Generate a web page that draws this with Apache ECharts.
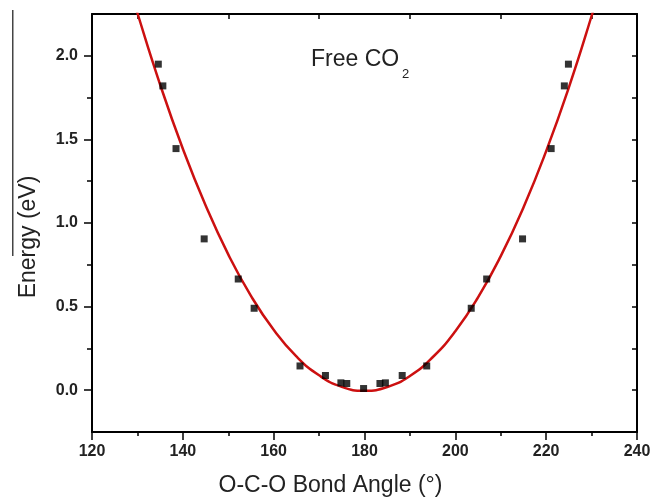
<!DOCTYPE html>
<html>
<head>
<meta charset="utf-8">
<script src="https://cdn.jsdelivr.net/npm/echarts@6/dist/echarts.min.js"></script>
<style>html,body{margin:0;padding:0;background:#fff}#c{width:653px;height:497px}</style>
</head>
<body>
<div id="c"></div>
<script>
// Data
const pointsX = [134.6, 135.6, 138.5, 144.7, 152.2, 155.7, 165.8, 171.4, 174.8, 176.1, 179.8, 183.4, 184.6, 188.3, 193.7, 203.5, 206.9, 214.8, 221.1, 224.0, 224.9];
const pointsY = [1.95, 1.82, 1.445, 0.905, 0.665, 0.49, 0.145, 0.088, 0.044, 0.04, 0.01, 0.04, 0.044, 0.088, 0.145, 0.49, 0.665, 0.905, 1.445, 1.82, 1.95];
const curveX = [128, 130, 135, 140, 145, 150, 155, 160, 165, 170, 175, 180, 185, 190, 195, 200, 205, 210, 215, 220, 225, 230, 233];
const curveY = [2.440, 2.256, 1.828, 1.444, 1.106, 0.812, 0.564, 0.361, 0.202, 0.089, 0.020, -0.003, 0.019, 0.085, 0.197, 0.353, 0.555, 0.802, 1.093, 1.430, 1.811, 2.238, 2.516];
const xTickLabels = [120, 140, 160, 180, 200, 220, 240];
const xTopTicks = [130, 150, 170, 190, 210, 230];
const yTickLabels = [0.0, 0.5, 1.0, 1.5, 2.0];
const yMinorTicks = [0.25, 0.75, 1.25, 1.75];
const xName = 'O-C-O Bond Angle (°)';
const yName = 'Energy (eV)';
const titleMain = 'Free CO';
const titleSub = '2';

const FONT = 'Liberation Sans, Arial, sans-serif';
const AX = {color: '#000', width: 2};
const chart = echarts.init(document.getElementById('c'));
chart.setOption({
  animation: false,
  backgroundColor: '#fff',
  grid: {left: 92, right: 16, top: 14, bottom: 65, containLabel: false, outerBoundsMode: 'none'},
  xAxis: [{
    type: 'value', position: 'bottom', min: 120, max: 240, interval: 20,
    axisLine: {show: true, onZero: false, lineStyle: AX},
    axisTick: {show: true, length: 8, lineStyle: {color: '#000', width: 1.5}, customValues: xTickLabels},
    minorTick: {show: true, splitNumber: 2, length: 4, lineStyle: {color: '#000', width: 1.5}},
    splitLine: {show: false},
    axisLabel: {fontFamily: FONT, fontWeight: 'bold', fontSize: 16, color: '#222', margin: 12, customValues: xTickLabels},
    name: xName, nameLocation: 'middle', nameGap: 42,
    nameTextStyle: {fontFamily: FONT, fontSize: 23, color: '#222', padding: [0, 68, 0, 0]}
  }, {
    type: 'value', position: 'top', min: 120, max: 240, interval: 20,
    axisLine: {show: true, onZero: false, lineStyle: AX},
    axisTick: {show: true, inside: true, length: 5, lineStyle: {color: '#000', width: 1.5}, customValues: xTopTicks},
    splitLine: {show: false},
    axisLabel: {show: false}
  }],
  yAxis: [{
    type: 'value', position: 'left', min: -0.25, max: 2.25,
    axisLine: {show: true, onZero: false, lineStyle: AX},
    axisTick: {show: true, length: 8, lineStyle: {color: '#000', width: 1.5}, customValues: yTickLabels},
    splitLine: {show: false},
    axisLabel: {fontFamily: FONT, fontWeight: 'bold', fontSize: 16, color: '#222', margin: 14,
      customValues: yTickLabels, formatter: v => v.toFixed(1)},
    name: yName, nameLocation: 'middle', nameGap: 52, nameRotate: 90,
    nameTextStyle: {fontFamily: FONT, fontSize: 23, color: '#222', padding: [0, 28, 0, 0]}
  }, {
    type: 'value', position: 'left', min: -0.25, max: 2.25,
    axisLine: {show: false},
    axisTick: {show: true, length: 5, lineStyle: {color: '#000', width: 1.5}, customValues: yMinorTicks},
    splitLine: {show: false},
    axisLabel: {show: false}
  }, {
    type: 'value', position: 'right', min: -0.25, max: 2.25, interval: 0.25,
    axisLine: {show: true, onZero: false, lineStyle: AX},
    axisTick: {show: true, inside: true, length: 5, lineStyle: {color: '#000', width: 1.5}},
    splitLine: {show: false},
    axisLabel: {show: false}
  }],
  series: [{
    type: 'line', xAxisIndex: 0, yAxisIndex: 0,
    data: curveX.map((x, i) => [x, curveY[i]]),
    smooth: true, showSymbol: false, clip: true,
    lineStyle: {color: '#cc1010', width: 2.5}, z: 2
  }, {
    type: 'scatter', xAxisIndex: 0, yAxisIndex: 0,
    data: pointsX.map((x, i) => [x, pointsY[i]]),
    symbol: 'rect', symbolSize: 7,
    itemStyle: {color: '#000'}, z: 3
  }],
  graphic: [
    {type: 'text', left: 311, top: 48, style: {text: titleMain, font: '23px ' + FONT, fill: '#222'}},
    {type: 'text', left: 402, top: 68, style: {text: titleSub, font: '13px ' + FONT, fill: '#222'}},
    {type: 'rect', shape: {x: 12, y: 10, width: 1.5, height: 246}, style: {fill: '#444'}}
  ]
});
</script>
</body>
</html>
